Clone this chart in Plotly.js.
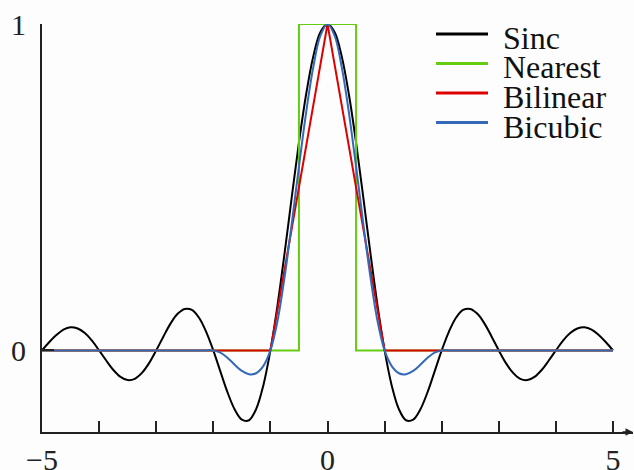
<!DOCTYPE html>
<html>
<head>
<meta charset="utf-8">
<script src="https://cdn.plot.ly/plotly-3.0.1.min.js"></script>
<style>
  html, body { margin: 0; padding: 0; background: #fdfdfd; }
  #chart { width: 634px; height: 470px; }
</style>
</head>
<body>
<div id="chart"></div>
<script>
// Interpolation kernels, sampled every 1/8 on [-5, 5]
const kernelX = [
  -5, -4.875, -4.75, -4.625, -4.5, -4.375, -4.25, -4.125,
  -4, -3.875, -3.75, -3.625, -3.5, -3.375, -3.25, -3.125,
  -3, -2.875, -2.75, -2.625, -2.5, -2.375, -2.25, -2.125,
  -2, -1.875, -1.75, -1.625, -1.5, -1.375, -1.25, -1.125,
  -1, -0.875, -0.75, -0.625, -0.5, -0.375, -0.25, -0.125,
  0,
  0.125, 0.25, 0.375, 0.5, 0.625, 0.75, 0.875, 1,
  1.125, 1.25, 1.375, 1.5, 1.625, 1.75, 1.875, 2,
  2.125, 2.25, 2.375, 2.5, 2.625, 2.75, 2.875, 3,
  3.125, 3.25, 3.375, 3.5, 3.625, 3.75, 3.875, 4,
  4.125, 4.25, 4.375, 4.5, 4.625, 4.75, 4.875, 5
];

const sincY = [
  0, 0.025, 0.047, 0.064, 0.071, 0.067, 0.053, 0.030,
  0, -0.031, -0.060, -0.081, -0.091, -0.087, -0.069, -0.039,
  0, 0.042, 0.082, 0.112, 0.127, 0.124, 0.100, 0.057,
  0, -0.065, -0.129, -0.181, -0.212, -0.214, -0.180, -0.108,
  0, 0.139, 0.300, 0.471, 0.637, 0.784, 0.900, 0.975,
  1,
  0.975, 0.900, 0.784, 0.637, 0.471, 0.300, 0.139, 0,
  -0.108, -0.180, -0.214, -0.212, -0.181, -0.129, -0.065, 0,
  0.057, 0.100, 0.124, 0.127, 0.112, 0.082, 0.042, 0,
  -0.039, -0.069, -0.087, -0.091, -0.081, -0.060, -0.031, 0,
  0.030, 0.053, 0.067, 0.071, 0.064, 0.047, 0.025, 0
];

const bicubicY = [
  0, 0, 0, 0, 0, 0, 0, 0,
  0, 0, 0, 0, 0, 0, 0, 0,
  0, 0, 0, 0, 0, 0, 0, 0,
  0, -0.007, -0.023, -0.044, -0.063, -0.073, -0.070, -0.048,
  0, 0.091, 0.227, 0.390, 0.563, 0.728, 0.867, 0.964,
  1,
  0.964, 0.867, 0.728, 0.563, 0.390, 0.227, 0.091, 0,
  -0.048, -0.070, -0.073, -0.063, -0.044, -0.023, -0.007, 0,
  0, 0, 0, 0, 0, 0, 0, 0,
  0, 0, 0, 0, 0, 0, 0, 0,
  0, 0, 0, 0, 0, 0, 0, 0
];

const nearestX = [-5, -0.5, -0.5, 0.5, 0.5, 5];
const nearestY = [0, 0, 1, 1, 0, 0];

const bilinearX = [-5, -1, 0, 1, 5];
const bilinearY = [0, 0, 1, 0, 0];

const seriesNames = ["Sinc", "Nearest", "Bilinear", "Bicubic"];
const seriesColors = ["#000000", "#66cc11", "#dd0000", "#3468b8"];

const xTickVals = [-5, -4, -3, -2, -1, 0, 1, 2, 3, 4, 5];
const xTickText = ["\u22125", "", "", "", "", "0", "", "", "", "", "5"];
const yTickVals = [0, 1];
const yTickText = ["0", "1"];

const serif = "Liberation Serif, Times New Roman, serif";

const traces = [
  { x: kernelX, y: sincY, shape: "spline" },
  { x: nearestX, y: nearestY, shape: "linear" },
  { x: bilinearX, y: bilinearY, shape: "linear" },
  { x: kernelX, y: bicubicY, shape: "spline" }
].map((t, i) => ({
  x: t.x, y: t.y, type: "scatter", mode: "lines", name: seriesNames[i],
  line: { color: seriesColors[i], width: 2, shape: t.shape, smoothing: 1 },
  cliponaxis: false, hoverinfo: "skip"
}));

// Hand-placed legend: a short line sample and a label per series
const legendX0 = (436 - 42) / 591, legendX1 = (488 - 42) / 591, legendTextX = (501 - 42) / 591;
const legendRowsPx = [34, 63.5, 93, 122.5];
const shapes = [];
const annotations = [];
seriesNames.forEach((name, i) => {
  const yp = (432 - legendRowsPx[i]) / 408;
  shapes.push({ type: "line", xref: "paper", yref: "paper", x0: legendX0, x1: legendX1, y0: yp, y1: yp,
                line: { color: seriesColors[i], width: 3 } });
  annotations.push({ xref: "paper", yref: "paper", x: legendTextX, y: yp - 4 / 408, xanchor: "left", yanchor: "middle",
                     text: name, showarrow: false, font: { family: serif, size: 32, color: "#111" } });
});

// Arrowhead at the end of the x axis
annotations.push({ xref: "paper", yref: "paper", x: 1.0, y: 0, ax: -12, ay: 0, axref: "pixel", ayref: "pixel",
                   text: "", showarrow: true, arrowhead: 2, arrowsize: 1, arrowwidth: 1.5, arrowcolor: "#222" });

const layout = {
  width: 634, height: 470,
  margin: { l: 42, r: 1, t: 24, b: 38 },
  paper_bgcolor: "#fdfdfd", plot_bgcolor: "#fdfdfd",
  showlegend: false,
  xaxis: {
    range: [-5, 5.35], showgrid: false, zeroline: false,
    showline: true, linecolor: "#222", linewidth: 2,
    ticks: "inside", ticklen: 11, tickwidth: 2, tickcolor: "#222",
    tickvals: xTickVals, ticktext: xTickText, ticklabelstandoff: 0,
    tickfont: { family: serif, size: 30, color: "#222" }
  },
  yaxis: {
    range: [-0.25, 1], showgrid: false, zeroline: false,
    showline: true, linecolor: "#222", linewidth: 2,
    ticks: "inside", ticklen: 12, tickwidth: 2, tickcolor: "#222",
    tickvals: yTickVals, ticktext: yTickText, ticklabelstandoff: 8,
    tickfont: { family: serif, size: 30, color: "#222" }
  },
  shapes: shapes,
  annotations: annotations
};

Plotly.newPlot("chart", traces, layout, { staticPlot: true, displayModeBar: false });
</script>
</body>
</html>
